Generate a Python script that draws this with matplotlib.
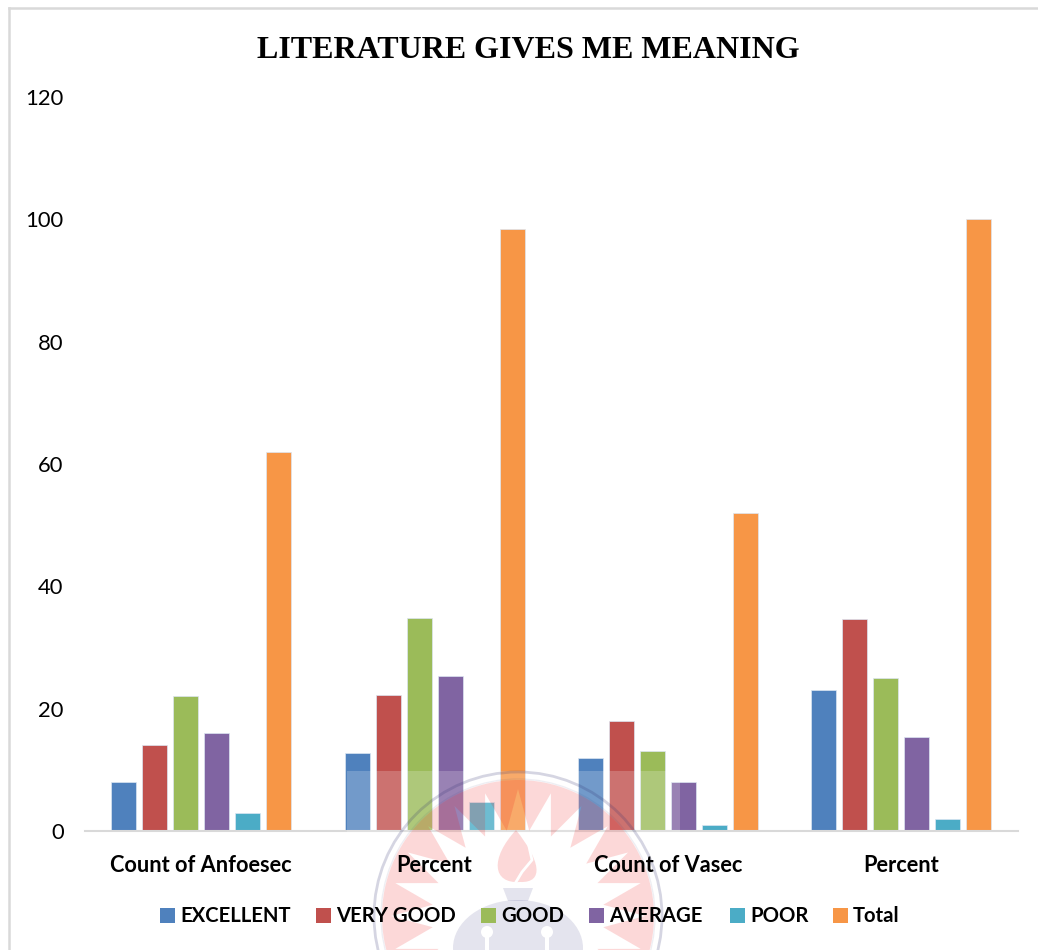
import numpy as np
import matplotlib
matplotlib.use("Agg")
import matplotlib.pyplot as plt
from matplotlib.patches import Circle, Rectangle, PathPatch, Polygon, Ellipse
from matplotlib.path import Path
from matplotlib.lines import Line2D

plt.rcParams['font.family'] = ['Lato', 'DejaVu Sans']

categories = ["Count of Anfoesec", "Percent", "Count of Vasec", "Percent"]
series_names = ["EXCELLENT", "VERY GOOD", "GOOD", "AVERAGE", "POOR", "Total"]
excellent = [8, 12.7, 12, 23.1]
very_good = [14, 22.2, 18, 34.6]
good = [22, 34.9, 13, 25.0]
average = [16, 25.4, 8, 15.4]
poor = [3, 4.8, 1, 1.9]
total = [62, 98.4, 52, 100]
series_values = [excellent, very_good, good, average, poor, total]
colors = ["#4F81BD", "#C0504D", "#9BBB59", "#8064A2", "#4BACC6", "#F79646"]
y_ticks = [0, 20, 40, 60, 80, 100, 120]

W, H = 1038, 950
fig = plt.figure(figsize=(W / 100, H / 100), dpi=100, facecolor="white")

# Invisible full-page axes: gives a pixel coordinate system for page furniture
page = fig.add_axes([0, 0, 1, 1], facecolor="none", zorder=-1)
page.set_xlim(0, W)
page.set_ylim(H, 0)
page.axis("off")
px = page.transData

# Plot area
ax = fig.add_axes([84.5 / W, 1 - 831 / H, (1018 - 84.5) / W, 734 / H])
x = np.arange(len(categories))
step = 31 / 233.25
for i, (vals, c) in enumerate(zip(series_values, colors)):
    ax.bar(x + (i - 2.5) * step, vals, width=25 / 233.25, color=c,
           edgecolor="#DCE6F2", linewidth=0.5, zorder=2)
ax.set_xlim(-0.5, 3.5)
ax.set_ylim(0, 120)
ax.set_xticks(x)
ax.set_xticklabels(categories, fontsize=15.7, fontweight="bold", color="black")
ax.set_yticks(y_ticks)
ax.tick_params(axis="x", length=0, pad=17)
ax.tick_params(axis="y", length=0, pad=15, labelsize=15.8, labelcolor="black")
ax.xaxis.set_zorder(10)
ax.yaxis.set_zorder(10)
for s in ["top", "right", "left"]:
    ax.spines[s].set_visible(False)
ax.spines["bottom"].set_color("#D9D9D9")
ax.spines["bottom"].set_linewidth(1.5)
ax.patch.set_alpha(0)


def overlay(artist):
    """Add a page-coordinate artist above the bars but below the text."""
    artist.set_transform(px)
    artist.set_clip_on(False)
    artist.set_zorder(3)
    ax.add_artist(artist)


fig.text(528 / W, 1 - 51 / H, "LITERATURE GIVES ME MEANING", ha="center", va="center",
         fontsize=23, fontweight="bold", family="Liberation Serif", color="black")

# Legend: swatches and labels
swatch_x = [160, 316, 481, 589, 730, 833]
for sx, name, c in zip(swatch_x, series_names, colors):
    fig.add_artist(Rectangle((sx / W, 1 - 923 / H), 15 / W, 15 / H, color=c,
                             transform=fig.transFigure, linewidth=0))
    fig.text((sx + 20) / W, 1 - 916 / H, name, ha="left", va="center", fontsize=14.6,
             fontweight="bold", color="black")

# Page frame
overlay(Line2D([8.5, 8.5], [950, 8], color="#D9D9D9", lw=1.8))
overlay(Line2D([8.5, 1038], [8, 8], color="#D9D9D9", lw=1.8))

# Translucent institutional seal laid over the lower part of the bars
overlay(Rectangle((347, 771), 333, 179, color="white", alpha=0.2, lw=0))

cx, cy = 518, 916
th = np.linspace(0, 2 * np.pi, 200)
outer = np.c_[cx + 136 * np.cos(th), cy + 136 * np.sin(th)]
n = 24
ang = np.arange(2 * n) * np.pi / n - np.pi / 2
rad = np.where(np.arange(2 * n) % 2 == 0, 127, 86)
inner = np.c_[cx + rad * np.cos(ang), cy + rad * np.sin(ang)][::-1]
verts = np.r_[outer, outer[:1], inner, inner[:1]]
codes = ([Path.MOVETO] + [Path.LINETO] * (len(outer) - 1) + [Path.CLOSEPOLY]
         + [Path.MOVETO] + [Path.LINETO] * (len(inner) - 1) + [Path.CLOSEPOLY])
overlay(PathPatch(Path(verts, codes), facecolor="#F01010", alpha=0.16, lw=0))
overlay(Circle((cx, cy), 144, fill=False, edgecolor="#30306E", alpha=0.2, lw=2))
overlay(Circle((cx, cy), 137, fill=False, edgecolor="#30306E", alpha=0.08, lw=1))

# Flame
flame = Path([(516, 830), (540, 860), (545, 883), (520, 882), (492, 884), (490, 858), (516, 830)],
             [Path.MOVETO, Path.CURVE4, Path.CURVE4, Path.CURVE4, Path.CURVE4, Path.CURVE4, Path.CURVE4])
overlay(PathPatch(flame, facecolor="#F01010", alpha=0.16, lw=0))
overlay(Line2D([528, 532, 522, 516], [842, 860, 872, 882], color="white", lw=2))

# Lamp
overlay(Ellipse((518, 948), 130, 96, facecolor="#30307E", alpha=0.13, lw=0))
overlay(Polygon([(503, 888), (533, 888), (528, 901), (508, 901)], closed=True,
                facecolor="#30307E", alpha=0.13, lw=0))
for kx in (487, 547):
    overlay(Circle((kx, 932), 6, facecolor="white", lw=0))
    overlay(Rectangle((kx - 2, 932), 4, 20, facecolor="white", lw=0))

fig.savefig("out.png", dpi=100)
